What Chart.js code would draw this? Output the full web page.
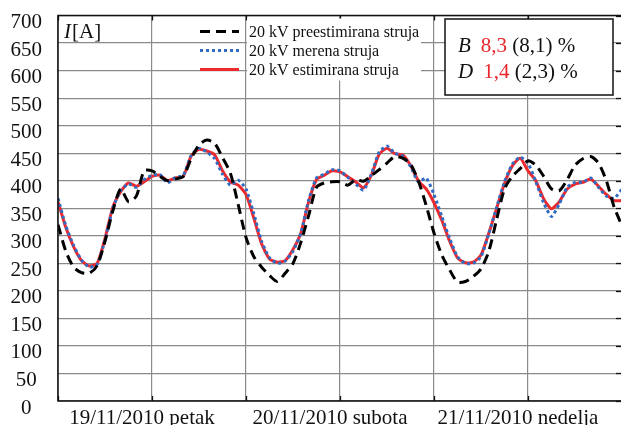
<!DOCTYPE html>
<html>
<head>
<meta charset="utf-8">
<script src="https://cdn.jsdelivr.net/npm/chart.js@4.4.0/dist/chart.umd.min.js"></script>
<style>
  html, body { margin: 0; padding: 0; background: #fff; overflow: hidden; }
  #wrap { width: 640px; height: 425px; }
</style>
</head>
<body>
<div id="wrap"><canvas id="struja" width="640" height="425"></canvas></div>
<script>
// satne vrednosti struje [A], 19-21/11/2010
const sati = [...Array(73).keys()];
const dani = ['19/11/2010 petak', '20/11/2010 subota', '21/11/2010 nedelja'];

const preestimirana = [
  320, 272, 243, 233, 232, 246, 290, 345, 385, 362, 372, 418,
  418, 408, 400, 403, 408, 440, 465, 474, 468, 442, 414, 357,
  297, 262, 243, 228, 217, 232, 250, 288, 337, 388, 396, 398,
  398, 392, 402, 399, 409, 420, 432, 444, 441, 430, 400, 355,
  305, 265, 238, 216, 217, 226, 240, 272, 330, 385, 408, 422,
  436, 428, 408, 385, 382, 402, 428, 440, 444, 432, 400, 352,
  318
];
const merena = [
  368, 318, 282, 256, 243, 248, 292, 350, 382, 394, 388, 402,
  410, 411, 396, 406, 410, 446, 459, 452, 440, 412, 392, 401,
  385, 340, 290, 260, 250, 254, 272, 305, 365, 405, 412, 420,
  418, 406, 394, 383, 412, 452, 463, 450, 445, 426, 398, 405,
  375, 335, 295, 262, 250, 250, 262, 304, 352, 398, 430, 443,
  432, 398, 360, 335, 358, 388, 397, 397, 405, 388, 372, 368,
  385
];
const estimirana = [
  362, 315, 280, 255, 245, 250, 295, 352, 380, 396, 390, 398,
  408, 410, 400, 405, 408, 445, 457, 454, 447, 418, 398, 392,
  375, 332, 285, 258, 252, 255, 275, 305, 362, 402, 410, 418,
  416, 407, 398, 387, 410, 448, 459, 449, 447, 428, 400, 385,
  360, 328, 290, 260, 251, 252, 265, 305, 350, 395, 427, 441,
  418, 400, 367, 349, 362, 385, 394, 397, 403, 390, 375, 364,
  364
];

const oznake = ['B', 'D'];
const greska = ['8,3', '1,4'];
const greskaPre = ['8,1', '2,3'];

const SERIF = '"Liberation Serif", "DejaVu Serif", serif';
const tacke = niz => niz.map((v, i) => ({ x: sati[i], y: v }));
const bezMargina = s => { s.paddingTop = 0; s.paddingBottom = 0; s.paddingLeft = 0; s.paddingRight = 0; };

// okvir, unutrasnje crtice, legenda i tabela greski
const ukrasi = {
  id: 'ukrasi',
  afterDatasetsDraw(chart) {
    const { ctx, chartArea: a, scales } = chart;
    ctx.save();
    ctx.strokeStyle = '#111';
    ctx.lineWidth = 1.3;
    scales.x.ticks.forEach(t => {
      const px = Math.round(scales.x.getPixelForValue(t.value)) + 0.5;
      ctx.beginPath();
      ctx.moveTo(px, a.top); ctx.lineTo(px, a.top + 5);
      ctx.moveTo(px, a.bottom); ctx.lineTo(px, a.bottom - 5);
      ctx.stroke();
    });
    scales.y.ticks.forEach(t => {
      const py = Math.round(scales.y.getPixelForValue(t.value)) + 0.5;
      ctx.beginPath();
      ctx.moveTo(a.right - 6, py); ctx.lineTo(a.right, py);
      ctx.stroke();
    });
    ctx.lineWidth = 1.5;
    ctx.strokeRect(a.left, a.top, a.right - a.left, a.bottom - a.top);

    // I[A]
    ctx.fillStyle = '#111';
    ctx.textBaseline = 'alphabetic';
    ctx.textAlign = 'left';
    ctx.font = 'italic 21px ' + SERIF;
    ctx.fillText('I', a.left + 6, a.top + 22);
    const wI = ctx.measureText('I').width;
    ctx.font = '21px ' + SERIF;
    ctx.fillText('[A]', a.left + 6 + wI + 1, a.top + 22);

    // legenda
    ctx.fillStyle = '#fff';
    ctx.fillRect(247, a.top + 3, 174, 62);
    ctx.font = '16px ' + SERIF;
    ctx.textBaseline = 'middle';
    chart.data.datasets.forEach((ds, i) => {
      const y = a.top + 16 + i * 19;
      ctx.strokeStyle = ds.borderColor;
      ctx.lineWidth = ds.borderWidth;
      ctx.setLineDash(ds.borderDash || []);
      ctx.beginPath();
      ctx.moveTo(200, y); ctx.lineTo(239, y);
      ctx.stroke();
      ctx.setLineDash([]);
      ctx.fillStyle = '#111';
      ctx.fillText(ds.label, 249, y + 1);
    });

    // tabela greski
    ctx.fillStyle = '#fff';
    ctx.fillRect(445, 19, 168, 76);
    ctx.strokeStyle = '#111';
    ctx.lineWidth = 1.5;
    ctx.strokeRect(445, 19, 168, 76);
    ctx.textBaseline = 'alphabetic';
    oznake.forEach((o, i) => {
      const y = 52 + i * 26;
      let x = 458;
      ctx.font = 'italic 21px ' + SERIF;
      ctx.fillStyle = '#111';
      ctx.fillText(o, x, y);
      x += ctx.measureText(o).width + 10;
      ctx.font = '21px ' + SERIF;
      ctx.fillStyle = '#e8262b';
      ctx.fillText(greska[i], x, y);
      x += ctx.measureText(greska[i] + ' ').width;
      ctx.fillStyle = '#111';
      ctx.fillText('(' + greskaPre[i] + ') %', x, y);
    });
    ctx.restore();
  }
};

new Chart(document.getElementById('struja').getContext('2d'), {
  type: 'line',
  data: {
    datasets: [{
      label: '20 kV preestimirana struja',
      data: tacke(preestimirana),
      borderColor: '#000',
      borderWidth: 3,
      borderDash: [10, 6],
      tension: 0.25
    }, {
      label: '20 kV merena struja',
      data: tacke(merena),
      borderColor: '#2f6cc4',
      borderWidth: 3,
      borderDash: [3, 3],
      tension: 0.2
    }, {
      label: '20 kV estimirana struja',
      data: tacke(estimirana),
      borderColor: '#ec2a2e',
      borderWidth: 3,
      tension: 0.2
    }]
  },
  options: {
    responsive: false,
    animation: false,
    devicePixelRatio: 1,
    elements: { point: { radius: 0 } },
    layout: { padding: { top: 15.5, right: 18, left: 0, bottom: 0 } },
    plugins: { legend: { display: false }, tooltip: { enabled: false } },
    scales: {
      x: {
        type: 'linear',
        min: 0,
        max: 72,
        afterFit: s => { s.height = 24; bezMargina(s); },
        grid: { color: '#8a8a8a', lineWidth: 1.2, drawTicks: false },
        border: { display: false },
        ticks: {
          stepSize: 12,
          autoSkip: false,
          maxRotation: 0,
          padding: 5,
          labelOffset: -10,
          color: '#111',
          font: { family: SERIF, size: 21 },
          callback: v => (v % 24 === 12 ? dani[(v - 12) / 24] : '')
        }
      },
      y: {
        min: 0,
        max: 700,
        afterFit: s => { s.width = 58; bezMargina(s); },
        grid: { color: '#8a8a8a', lineWidth: 1.2, drawTicks: false },
        border: { display: false },
        ticks: {
          stepSize: 50,
          maxTicksLimit: 20,
          autoSkip: false,
          padding: 16,
          crossAlign: 'center',
          labelOffset: 7,
          color: '#111',
          font: { family: SERIF, size: 21, lineHeight: 1 }
        }
      }
    }
  },
  plugins: [ukrasi]
});
</script>
</body>
</html>
